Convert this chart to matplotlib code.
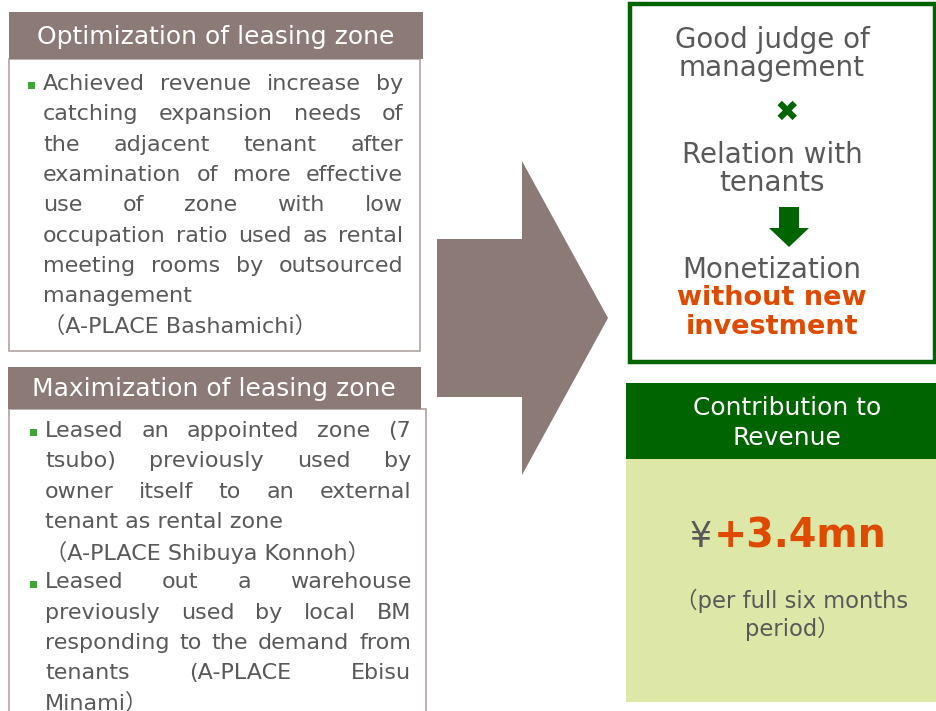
import matplotlib
matplotlib.use("Agg")
import matplotlib.pyplot as plt
from matplotlib.patches import Rectangle, Polygon

plt.rcParams["font.family"] = ["DejaVu Sans", "Noto Sans CJK JP"]

# ---- content ----
header_left_top = "Optimization of leasing zone"
header_left_bottom = "Maximization of leasing zone"

# (text, justify, bullet)
lines_top = [
    ("Achieved revenue increase by", True, True),
    ("catching expansion needs of", True, False),
    ("the adjacent tenant after", True, False),
    ("examination of more effective", True, False),
    ("use of zone with low", True, False),
    ("occupation ratio used as rental", True, False),
    ("meeting rooms by outsourced", True, False),
    ("management", False, False),
    ("（A-PLACE Bashamichi）", False, False),
]
lines_bottom = [
    ("Leased an appointed zone (7", True, True),
    ("tsubo) previously used by", True, False),
    ("owner itself to an external", True, False),
    ("tenant as rental zone", False, False),
    ("（A-PLACE Shibuya Konnoh）", False, False),
    ("Leased out a warehouse", True, True),
    ("previously used by local BM", True, False),
    ("responding to the demand from", True, False),
    ("tenants (A-PLACE Ebisu", True, False),
    ("Minami）", False, False),
]

flow_lines = ["Good judge of", "management", "Relation with", "tenants", "Monetization"]
flow_highlight = ["without new", "investment"]
contrib_header = ["Contribution to", "Revenue"]
contrib_currency = "¥"
contrib_value = "+3.4mn"
contrib_note = ["（per full six months", "period）"]

# ---- colours ----
BROWN = "#8B7A76"
BORDER = "#B0A3A0"
GRAY = "#595959"
GREEN = "#006400"
ORANGE = "#DD4A00"
LIGHT = "#DDE8A8"
BULLET = "#3FA535"

fig = plt.figure(figsize=(9.37, 7.11), dpi=100)
ax = fig.add_axes([0, 0, 1, 1])
ax.set_xlim(0, 937)
ax.set_ylim(711, 0)
ax.axis("off")
renderer = fig.canvas.get_renderer()


def text_width(s, **kw):
    t = ax.text(0, 0, s, **kw)
    w = t.get_window_extent(renderer).width
    t.remove()
    return w


def paragraph(lines, x0, x1, y0, dy, size):
    for i, (line, justify, bullet) in enumerate(lines):
        y = y0 + i * dy
        if bullet:
            ax.add_patch(Rectangle((x0 - 15, y - 2), 7, 7, color=BULLET, lw=0))
        words = line.split(" ")
        if justify and len(words) > 1:
            widths = [text_width(w, fontsize=size) for w in words]
            gap = (x1 - x0 - sum(widths)) / (len(words) - 1)
            x = x0
            for w, wd in zip(words, widths):
                ax.text(x, y, w, fontsize=size, color=GRAY, ha="left", va="center")
                x += wd + gap
        else:
            ax.text(x0, y, line, fontsize=size, color=GRAY, ha="left", va="center")


# left top box
ax.add_patch(Rectangle((9, 59), 411, 292, fc="white", ec=BORDER, lw=1.2))
ax.add_patch(Rectangle((9, 12), 414, 47, fc=BROWN, lw=0))
ax.text(216, 37, header_left_top, fontsize=18, color="white", ha="center", va="center")
paragraph(lines_top, 43, 403, 84, 30.3, 16)

# left bottom box
ax.add_patch(Rectangle((9, 409), 417, 320, fc="white", ec=BORDER, lw=1.2))
ax.add_patch(Rectangle((8, 367), 413, 42, fc=BROWN, lw=0))
ax.text(214, 389, header_left_bottom, fontsize=18, color="white", ha="center", va="center")
paragraph(lines_bottom, 45, 411, 431, 30.3, 16)

# big arrow
ax.add_patch(Polygon([(437, 239), (522, 239), (522, 161), (608, 318),
                      (522, 475), (522, 397), (437, 397)], closed=True, fc=BROWN, lw=0))

# green outlined box
ax.add_patch(Rectangle((630, 4), 305, 358, fc="white", ec=GREEN, lw=3.2))
ys = [40, 68, 155, 183, 270]
for s, y in zip(flow_lines, ys):
    ax.text(772, y, s, fontsize=20, color=GRAY, ha="center", va="center")
for s, y in zip(flow_highlight, [298, 327]):
    ax.text(772, y, s, fontsize=19.5, color=ORANGE, fontweight="bold", ha="center", va="center")
ax.text(787, 113, "✖", fontsize=21, color=GREEN, ha="center", va="center")
ax.add_patch(Polygon([(779, 207), (799, 207), (799, 228), (809, 228), (789, 247),
                      (769, 228), (779, 228)], closed=True, fc=GREEN, lw=0))

# contribution box
ax.add_patch(Rectangle((626, 459), 311, 243, fc=LIGHT, lw=0))
ax.add_patch(Rectangle((626, 383), 311, 76, fc=GREEN, lw=0))
for s, y in zip(contrib_header, [408, 438]):
    ax.text(787, y, s, fontsize=18, color="white", ha="center", va="center")

w_cur = text_width(contrib_currency, fontsize=25)
w_val = text_width(contrib_value, fontsize=28.5, fontweight="bold")
xs = 787 - (w_cur + w_val) / 2
ax.text(xs, 537, contrib_currency, fontsize=25, color=GRAY, ha="left", va="center")
ax.text(xs + w_cur + 2, 537, contrib_value, fontsize=28.5, color=ORANGE,
        fontweight="bold", ha="left", va="center")
for s, y in zip(contrib_note, [601, 629]):
    ax.text(792, y, s, fontsize=16.3, color=GRAY, ha="center", va="center")

fig.savefig("out.png", dpi=100)
